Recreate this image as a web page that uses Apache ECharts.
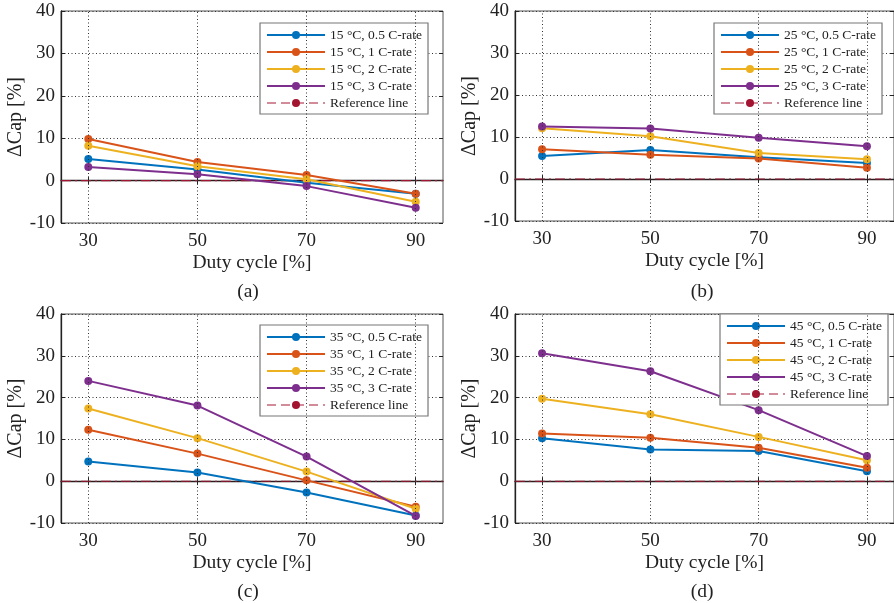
<!DOCTYPE html>
<html><head><meta charset="utf-8">
<script src="https://cdn.jsdelivr.net/npm/echarts@6/dist/echarts.min.js"></script>
<style>html,body{margin:0;padding:0;background:#fff}#c{width:894px;height:603px}</style>
</head><body><div id="c"></div>
<script>
const duty = [30, 50, 70, 90];
const xTicks = [30, 50, 70, 90];
const temps = ['15', '25', '35', '45'];
const rateLabels = ['0.5', '1', '2', '3'];
const panelLabels = ['(a)', '(b)', '(c)', '(d)'];
// ΔCap [%] values per panel (temperature) and C-rate, at duty cycles 30, 50, 70, 90
const t15_r05 = [5.1, 2.6, -0.5, -3.1];
const t15_r1  = [9.8, 4.4, 1.3, -3.1];
const t15_r2  = [8.2, 3.4, 0.3, -5.0];
const t15_r3  = [3.2, 1.5, -1.3, -6.4];
const t25_r05 = [5.5, 6.9, 5.2, 3.8];
const t25_r1  = [7.1, 5.8, 4.9, 2.7];
const t25_r2  = [12.1, 10.2, 6.2, 4.7];
const t25_r3  = [12.5, 12.0, 9.8, 7.8];
const t35_r05 = [4.7, 2.1, -2.7, -8.2];
const t35_r1  = [12.3, 6.6, 0.2, -6.1];
const t35_r2  = [17.4, 10.3, 2.3, -6.6];
const t35_r3  = [24.0, 18.1, 5.9, -8.3];
const t45_r05 = [10.3, 7.6, 7.2, 2.4];
const t45_r1  = [11.4, 10.4, 8.0, 3.2];
const t45_r2  = [19.7, 16.0, 10.6, 5.0];
const t45_r3  = [30.6, 26.3, 17.0, 6.0];
const panelData = [
  [t15_r05, t15_r1, t15_r2, t15_r3],
  [t25_r05, t25_r1, t25_r2, t25_r3],
  [t35_r05, t35_r1, t35_r2, t35_r3],
  [t45_r05, t45_r1, t45_r2, t45_r3]
];
const refValue = 0;
const xMin = 25, xMax = 95;
const yMin = -10, yMax = 40, yStep = 10;

const colors = ['#0072BD', '#D95319', '#EDB120', '#7E2F8E'];
const refColor = '#A2142F';
const FONT = 'Liberation Serif';

const grids = [
  {left: 61, top: 11, width: 382, height: 212},
  {left: 515, top: 11, width: 382, height: 210},
  {left: 61, top: 314, width: 382, height: 209},
  {left: 515, top: 314, width: 382, height: 209}
];
const legendPos = [
  {left: 260, top: 23},
  {left: 714, top: 23},
  {left: 260, top: 325},
  {left: 720, top: 314}
];
const labelPos = [
  {x: 243, y: 287}, {x: 697, y: 287}, {x: 243, y: 587}, {x: 697, y: 587}
];

const option = {
  animation: false,
  backgroundColor: '#fff',
  textStyle: {fontFamily: FONT},
  grid: grids.map(g => Object.assign({show: true, borderColor: '#555', borderWidth: 1, backgroundColor: 'transparent'}, g)),
  xAxis: [], yAxis: [], series: [], legend: [], title: []
};

grids.forEach((g, p) => {
  option.xAxis.push({
    type: 'value', gridIndex: p, min: xMin, max: xMax,
    name: 'Duty cycle [%]', nameLocation: 'middle', nameGap: 30,
    nameTextStyle: {fontFamily: FONT, fontSize: 19.5, color: '#222'},
    axisLine: {show: true, lineStyle: {color: '#222', width: 1.3}},
    axisTick: {show: true, inside: true, length: 4, customValues: xTicks, lineStyle: {color: '#222'}},
    axisLabel: {customValues: xTicks, margin: 9, fontFamily: FONT, fontSize: 19, color: '#222'},
    splitLine: {show: false}
  });
  option.xAxis.push({
    type: 'value', gridIndex: p, min: xMin, max: xMax, position: 'top',
    axisLine: {show: false},
    axisTick: {show: true, inside: true, length: 4, customValues: xTicks, lineStyle: {color: '#222'}},
    axisLabel: {show: false}, splitLine: {show: false}
  });
  option.yAxis.push({
    type: 'value', gridIndex: p, min: yMin, max: yMax, interval: yStep,
    name: 'ΔCap [%]', nameLocation: 'middle', nameGap: 31,
    nameTextStyle: {fontFamily: FONT, fontSize: 20, color: '#222'},
    axisLine: {show: true, lineStyle: {color: '#222', width: 1.3}},
    axisTick: {show: true, inside: true, length: 4, lineStyle: {color: '#222'}},
    axisLabel: {margin: 6, fontFamily: FONT, fontSize: 19, color: '#222'},
    splitLine: {show: true, lineStyle: {color: '#333', width: 1, type: [1, 2.5]}}
  });
  option.yAxis.push({
    type: 'value', gridIndex: p, min: yMin, max: yMax, interval: yStep, position: 'right',
    axisLine: {show: false},
    axisTick: {show: true, inside: true, length: 4, lineStyle: {color: '#222'}},
    axisLabel: {show: false}, splitLine: {show: false}
  });
  const xi = p * 2, yi = p * 2;
  option.series.push({
    type: 'line', xAxisIndex: xi, yAxisIndex: yi, data: [], silent: true, z: 1,
    markLine: {
      silent: true, symbol: 'none', label: {show: false},
      lineStyle: {color: '#333', width: 1, type: [1, 2.5]},
      data: xTicks.map(v => ({xAxis: v}))
    }
  });
  const names = [];
  panelData[p].forEach((vals, s) => {
    const nm = temps[p] + ' °C, ' + rateLabels[s] + ' C-rate';
    names.push(nm);
    option.series.push({
      name: nm, type: 'line', xAxisIndex: xi, yAxisIndex: yi, z: 3,
      data: duty.map((d, i) => [d, vals[i]]),
      symbol: 'circle', symbolSize: 8, showSymbol: true,
      lineStyle: {color: colors[s], width: 2},
      itemStyle: {color: colors[s]}
    });
  });
  const refName = 'Reference line';
  option.series.push({
    name: refName, type: 'line', xAxisIndex: xi, yAxisIndex: yi, z: 2,
    data: [[xMin, refValue], [xMax, refValue]],
    symbol: 'none',
    lineStyle: {color: refColor, width: 1.1, type: [10, 4, 2, 4]},
    itemStyle: {color: refColor}
  });
  option.legend.push(Object.assign({
    orient: 'vertical',
    backgroundColor: '#fff', borderColor: '#777', borderWidth: 1.2,
    padding: [5, 6, 4, 6], itemGap: 3, itemWidth: 58, itemHeight: 10,
    textStyle: {fontFamily: FONT, fontSize: 13.5, color: '#222'},
    selectedMode: false,
    data: names.map(n => ({name: n})).concat([{name: refName, lineStyle: {color: 'rgba(162,20,47,0.65)', type: [9, 5], width: 1.3}}])
  }, legendPos[p]));
  option.title.push({
    text: panelLabels[p], left: labelPos[p].x, top: labelPos[p].y, textAlign: 'center', textVerticalAlign: 'middle',
    textStyle: {fontFamily: FONT, fontSize: 19.5, fontWeight: 'normal', color: '#222'}
  });
});

const chart = echarts.init(document.getElementById('c'), null, {renderer: 'canvas'});
chart.setOption(option);
</script></body></html>
